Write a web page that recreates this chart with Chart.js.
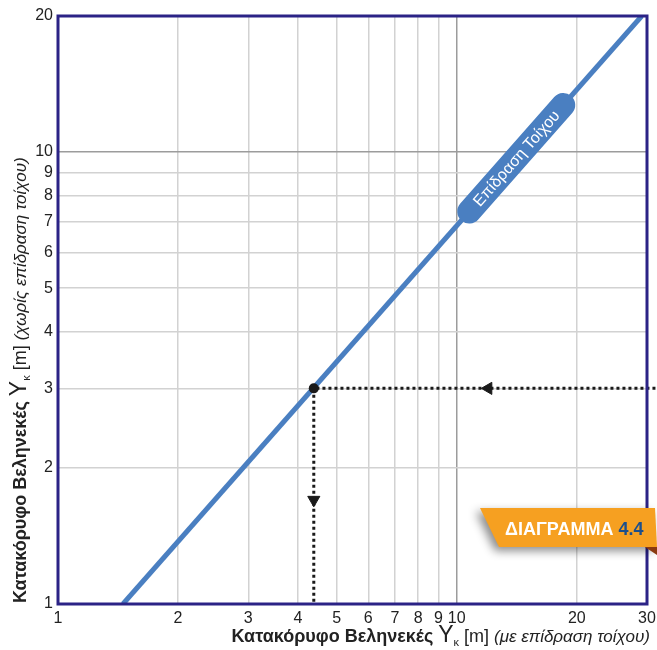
<!DOCTYPE html>
<html>
<head>
<meta charset="utf-8">
<script src="https://cdn.jsdelivr.net/npm/chart.js@4.4.1/dist/chart.umd.min.js"></script>
<style>
  html, body { margin: 0; padding: 0; background: #fff; }
  #wrap { width: 657px; height: 650px; }
</style>
</head>
<body>
<div id="wrap"><canvas id="chart1" width="657" height="650"></canvas></div>
<script>
// axis ticks
const xTicks = [1, 2, 3, 4, 5, 6, 7, 8, 9, 10, 20, 30];
const yTicks = [1, 2, 3, 4, 5, 6, 7, 8, 9, 10, 20];

// wall effect line: Y(with wall) -> Y(without wall)
const lineX = [1.455, 29.1];
const lineY = [1, 20];

// worked example (reading path)
const exampleX = [31.5, 4.38, 4.38];
const exampleY = [3, 3, 1];
const arrowX = [12, 4.38];
const arrowY = [3, 1.7];
const arrowRot = [-90, 180];

const labelX = 14.1;      // where the "Επίδραση Τοίχου" tag sits on the line
const labelText = 'Επίδραση Τοίχου';

const FONT = '"Liberation Sans", Arial, sans-serif';
const BLUE = '#4a7fc1';
const NAVY = '#2b2386';

function drawRich(c, segs, x, y) {
  let cx = x;
  segs.forEach(s => {
    c.font = s.font;
    c.fillStyle = s.color || '#222';
    c.fillText(s.text, cx, y + (s.dy || 0));
    cx += c.measureText(s.text).width;
  });
  return cx - x;
}
function richWidth(c, segs) {
  let w = 0;
  segs.forEach(s => { c.font = s.font; w += c.measureText(s.text).width; });
  return w;
}

const titleSegs = (tail) => [
  { text: 'Κατακόρυφο Βεληνεκές ', font: 'bold 18px ' + FONT },
  { text: 'Υ', font: '23px ' + FONT },
  { text: 'κ', font: '11px ' + FONT, dy: 4 },
  { text: ' [m] ', font: '18px ' + FONT },
  { text: tail, font: 'italic 17px ' + FONT }
];

const decor = {
  id: 'decor',
  afterDraw(chart) {
    const c = chart.ctx;
    const a = chart.chartArea;
    const xs = chart.scales.x, ys = chart.scales.y;

    // frame
    c.save();
    c.strokeStyle = NAVY;
    c.lineWidth = 3;
    c.strokeRect(a.left, a.top, a.right - a.left, a.bottom - a.top);
    c.restore();

    // tag along the line
    const k = lineY[0] / lineX[0];
    const px = xs.getPixelForValue(labelX), py = ys.getPixelForValue(labelX * k);
    const p2x = xs.getPixelForValue(labelX * 2), p2y = ys.getPixelForValue(labelX * 2 * k);
    const ang = Math.atan2(p2y - py, p2x - px);
    c.save();
    c.translate(px, py);
    c.rotate(ang);
    c.fillStyle = BLUE;
    c.beginPath();
    c.roundRect(-83, -12, 166, 24, 12);
    c.fill();
    c.fillStyle = '#fff';
    c.font = '16px ' + FONT;
    c.textAlign = 'center';
    c.textBaseline = 'middle';
    c.fillText(labelText, 0, 1);
    c.restore();

    // orange badge
    c.save();
    c.shadowColor = 'rgba(0,0,0,0.45)';
    c.shadowBlur = 10;
    c.shadowOffsetX = -4;
    c.shadowOffsetY = 4;
    c.fillStyle = '#f6a021';
    c.beginPath();
    c.moveTo(480, 508);
    c.lineTo(655, 508);
    c.lineTo(657, 547);
    c.lineTo(499, 547);
    c.closePath();
    c.fill();
    c.restore();
    c.save();
    c.fillStyle = '#8a3a10';
    c.beginPath();
    c.moveTo(645, 547);
    c.lineTo(657, 547);
    c.lineTo(657, 555);
    c.closePath();
    c.fill();
    c.textBaseline = 'alphabetic';
    drawRich(c, [
      { text: 'ΔΙΑΓΡΑΜΜΑ ', font: 'bold 18px ' + FONT, color: '#fff' },
      { text: '4.4', font: 'bold 18px ' + FONT, color: '#1c4f8c' }
    ], 505, 535);
    c.restore();

    // axis titles
    c.save();
    c.textBaseline = 'alphabetic';
    const xt = titleSegs('(με επίδραση τοίχου)');
    drawRich(c, xt, 650 - richWidth(c, xt), 642);
    c.translate(26, 603);
    c.rotate(-Math.PI / 2);
    drawRich(c, titleSegs('(χωρίς επίδραση τοίχου)'), 0, 0);
    c.restore();
  }
};

const gridColor = (ctx) => ctx.tick && ctx.tick.value === 10 ? '#9c9c9c' : '#d2d2d2';

new Chart(document.getElementById('chart1'), {
  type: 'scatter',
  data: {
    datasets: [
      {
        data: arrowX.map((v, i) => ({ x: v, y: arrowY[i] })),
        pointStyle: 'triangle',
        rotation: arrowRot,
        radius: 7,
        backgroundColor: '#1a1a1a',
        borderColor: '#1a1a1a',
        borderWidth: 1
      },
      {
        type: 'line',
        data: exampleX.map((v, i) => ({ x: v, y: exampleY[i] })),
        borderColor: '#1a1a1a',
        borderWidth: 3,
        borderDash: [3, 3],
        pointRadius: [0, 5, 0],
        pointBackgroundColor: '#1a1a1a',
        pointBorderWidth: 0,
        clip: false
      },
      {
        type: 'line',
        data: lineX.map((v, i) => ({ x: v, y: lineY[i] })),
        borderColor: BLUE,
        borderWidth: 5,
        pointRadius: 0,
        clip: 0
      }
    ]
  },
  options: {
    responsive: false,
    animation: false,
    layout: { padding: { top: 16, right: 10, left: 0, bottom: 0 } },
    plugins: { legend: { display: false }, tooltip: { enabled: false } },
    scales: {
      x: {
        type: 'logarithmic',
        min: 1,
        max: 30,
        afterBuildTicks: (s) => { s.ticks = xTicks.map(v => ({ value: v })); },
        afterFit: (s) => { s.height = 46; s.paddingLeft = 0; s.paddingRight = 0; },
        grid: { color: gridColor, lineWidth: 1.5, drawTicks: false },
        border: { display: false },
        ticks: {
          autoSkip: false,
          maxRotation: 0,
          padding: 5,
          color: '#222',
          font: { family: FONT, size: 16 },
          callback: (v) => String(v)
        }
      },
      y: {
        type: 'logarithmic',
        min: 1,
        max: 20,
        afterBuildTicks: (s) => { s.ticks = yTicks.map(v => ({ value: v })); },
        afterFit: (s) => { s.width = 58; s.paddingTop = 0; s.paddingBottom = 0; },
        grid: { color: gridColor, lineWidth: 1.5, drawTicks: false },
        border: { display: false },
        ticks: {
          autoSkip: false,
          padding: 5,
          color: '#222',
          font: { family: FONT, size: 16 },
          callback: (v) => String(v)
        }
      }
    }
  },
  plugins: [decor]
});
</script>
</body>
</html>
